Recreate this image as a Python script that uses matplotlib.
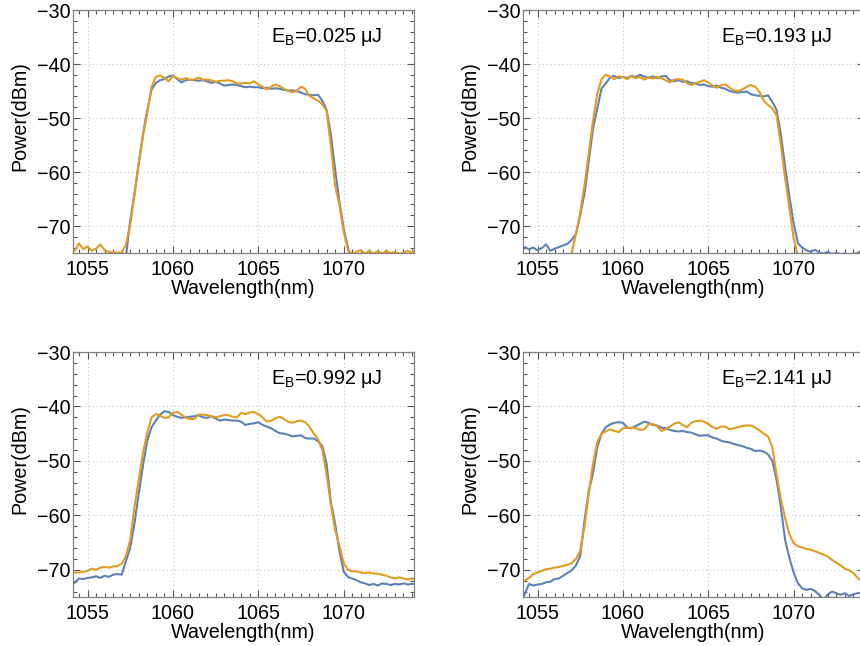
import numpy as np
import matplotlib
matplotlib.use("Agg")
import matplotlib.pyplot as plt
from matplotlib.ticker import MultipleLocator

plt.rcParams['font.family'] = ['Liberation Sans', 'DejaVu Sans']
plt.rcParams['mathtext.fontset'] = 'custom'
plt.rcParams['mathtext.rm'] = 'Liberation Sans'
plt.rcParams['mathtext.it'] = 'Liberation Sans'

# wavelength sampling grid (nm), 1054.0 ... 1074.25 in 0.25 nm steps
wavelength = np.arange(82) * 0.25 + 1054.0

energies = ["0.025", "0.193", "0.992", "2.141"]

blue_1 = [
    -78, -78, -78, -78,
    -78, -78, -78, -78,
    -78, -78, -78, -78,
    -78, -75.8, -69.0, -64.0,
    -58.5, -53.0, -48.5, -44.8,
    -43.5, -43.0, -42.8, -42.3,
    -42.1, -42.8, -43.4, -43.0,
    -42.9, -43.0, -43.1, -43.0,
    -43.2, -43.5, -43.3, -43.6,
    -44.0, -43.9, -43.8, -43.9,
    -44.1, -44.3, -44.2, -44.3,
    -44.3, -44.5, -44.4, -44.6,
    -44.5, -44.6, -44.8, -44.9,
    -44.9, -45.0, -45.3, -45.6,
    -45.7, -45.8, -45.7, -46.8,
    -48.5, -53.0, -59.5, -65.5,
    -70.4, -74.0, -77, -78,
    -78, -78, -78, -78,
    -78, -78, -78, -78,
    -78, -78, -78, -78,
    -78, -78,
]
orange_1 = [
    -74.8, -74.6, -73.2, -74.3,
    -73.8, -74.6, -74.2, -73.4,
    -74.5, -74.8, -74.9, -74.9,
    -74.9, -73.5, -69.8, -64.3,
    -58.2, -53.3, -49.0, -44.2,
    -42.4, -42.1, -42.6, -43.2,
    -42.2, -42.6, -42.9, -42.6,
    -42.9, -42.9, -42.5, -42.9,
    -42.9, -43.0, -43.3, -43.1,
    -43.1, -43.0, -43.2, -43.6,
    -43.6, -43.5, -43.6, -43.2,
    -43.8, -44.2, -44.7, -44.2,
    -43.8, -44.1, -44.6, -45.0,
    -45.2, -45.0, -44.2, -44.6,
    -45.9, -46.4, -46.8, -47.5,
    -48.7, -55.1, -62.5, -66.1,
    -71.0, -74.4, -75.2, -74.8,
    -74.5, -75.1, -74.6, -75.1,
    -74.7, -75.1, -74.6, -75.0,
    -74.8, -75.1, -75.0, -74.6,
    -74.9, -74.5,
]
blue_2 = [
    -73.9, -73.9, -74.3, -74.0,
    -74.5, -74.1, -73.4, -74.6,
    -74.2, -73.9, -73.6, -73.3,
    -72.6, -71.5, -68.0, -64.0,
    -58.0, -52.0, -48.3, -44.5,
    -43.6, -42.5, -42.2, -42.6,
    -42.4, -42.6, -42.2, -42.4,
    -42.0, -42.3, -42.6, -42.3,
    -42.6, -42.3, -42.2, -43.0,
    -43.2, -43.0, -43.3, -43.2,
    -43.5, -43.6, -43.9, -43.8,
    -44.1, -44.2, -44.0, -44.4,
    -44.6, -45.0, -45.2, -45.3,
    -45.2, -45.1, -45.6, -45.8,
    -45.9, -46.0, -45.8, -47.0,
    -48.5, -53.0, -59.0, -64.5,
    -69.5, -73.2, -74.0, -74.5,
    -74.8, -74.4, -74.9, -75.1,
    -74.8, -75.2, -75.0, -75.2,
    -75.1, -75.3, -75.2, -75.0,
    -74.5, -74.3,
]
orange_2 = [
    -78, -78, -78, -78,
    -78, -78, -78, -78,
    -78, -78, -78, -77,
    -75.0, -71.5, -67.5, -62.5,
    -56.5, -50.5, -45.5, -42.8,
    -42.0, -42.3, -42.8, -42.3,
    -42.4, -42.8, -42.3, -42.6,
    -42.4, -42.9, -42.5, -42.7,
    -42.4, -42.6, -43.0, -43.4,
    -42.9, -42.8, -42.9, -43.5,
    -43.9, -43.6, -43.3, -43.0,
    -43.4, -44.0, -44.4, -43.9,
    -43.8, -44.4, -44.9, -45.0,
    -44.7, -44.2, -43.9, -44.2,
    -45.2, -46.8, -47.6, -48.2,
    -49.5, -55.0, -61.2, -66.7,
    -72.3, -75.6, -78, -78,
    -78, -78, -78, -78,
    -78, -78, -78, -78,
    -78, -78, -78, -78,
    -78, -78,
]
blue_3 = [
    -72.6, -72.4, -71.6, -71.7,
    -71.5, -71.4, -71.2, -71.5,
    -71.1, -71.3, -70.9, -70.8,
    -70.9, -68.4, -66.0, -61.5,
    -56.0, -50.8, -46.3, -43.8,
    -42.6, -41.5, -40.9, -41.0,
    -41.6, -41.9, -42.1, -42.0,
    -41.9, -41.8, -41.6, -42.0,
    -42.1, -41.8, -42.2, -42.6,
    -42.4, -42.5, -42.6, -42.6,
    -42.8, -43.4, -43.2, -43.1,
    -42.9, -43.4, -43.7, -44.0,
    -44.5, -44.9, -45.0, -45.2,
    -45.5, -45.4, -45.3, -45.8,
    -45.9, -45.9, -46.4, -47.3,
    -50.5, -57.5, -61.5, -66.5,
    -70.3, -71.3, -71.6, -71.9,
    -72.3, -72.5, -72.8, -72.6,
    -72.9, -72.5, -72.6, -72.8,
    -72.6, -72.7, -72.5, -72.7,
    -72.6, -72.6,
]
orange_3 = [
    -70.5, -70.5, -70.5, -70.4,
    -70.2, -69.8, -70.0, -69.6,
    -69.5, -69.6, -69.4, -69.3,
    -68.9, -67.5, -64.5, -58.5,
    -53.5, -48.5, -44.8, -42.0,
    -41.4, -41.7, -42.1, -42.0,
    -41.2, -41.0, -41.5, -42.1,
    -42.3, -42.3, -41.5, -41.5,
    -41.6, -41.8, -42.0, -41.8,
    -41.6, -41.6, -41.9, -42.0,
    -41.2, -41.4, -41.1, -41.0,
    -41.4, -42.0, -42.8, -42.6,
    -42.2, -41.9, -42.3, -42.8,
    -43.0, -42.7, -42.6, -42.9,
    -43.7, -45.0, -46.0, -48.0,
    -52.5, -58.0, -62.7, -65.5,
    -68.8, -70.0, -70.3, -70.3,
    -70.5, -70.6, -70.5, -70.7,
    -70.7, -70.9, -71.1, -71.4,
    -71.6, -71.4, -71.6, -71.8,
    -71.6, -71.8,
]
blue_4 = [
    -76.0, -74.5, -72.6, -72.9,
    -72.7, -72.6, -72.3, -72.2,
    -71.7, -71.6, -71.1, -70.6,
    -70.1, -69.2, -67.5, -61.0,
    -55.5, -52.3, -47.5, -45.0,
    -43.8, -43.3, -43.0, -42.9,
    -43.0, -43.9, -44.0, -43.6,
    -43.2, -42.8, -43.0, -43.4,
    -43.5, -43.9, -44.0, -44.3,
    -44.5, -44.6, -44.5, -44.7,
    -44.8, -45.1, -45.4, -45.3,
    -45.3, -45.7, -45.9, -46.3,
    -46.5, -46.6, -46.9, -47.1,
    -47.3, -47.6, -47.8, -48.2,
    -48.1, -48.3, -48.8, -50.0,
    -53.5, -58.5, -64.5, -67.8,
    -70.5, -72.5, -73.4, -73.7,
    -73.5, -73.9, -74.6, -75.5,
    -74.5, -74.0, -74.3, -74.6,
    -74.3, -74.8, -74.5, -74.3,
    -74.2, -73.9,
]
orange_4 = [
    -72.3, -72.0, -71.5, -70.8,
    -70.5, -70.2, -69.9, -69.8,
    -69.6, -69.5, -69.3, -69.1,
    -68.8, -68.0, -66.5, -62.0,
    -56.0, -50.5, -46.5, -45.0,
    -44.6, -44.2, -44.5, -44.7,
    -44.0, -43.9, -43.9, -44.0,
    -44.3, -44.2, -43.3, -43.2,
    -43.6, -44.5, -44.2, -43.7,
    -43.2, -42.9, -43.4, -43.8,
    -43.0, -42.7, -42.6, -42.8,
    -43.2, -43.8, -44.1, -43.7,
    -43.7, -44.2, -44.0, -43.8,
    -43.6, -43.5, -43.5, -43.9,
    -44.4, -45.0, -45.5, -47.5,
    -52.5, -57.0, -60.5, -63.5,
    -65.1, -65.7, -65.9, -66.2,
    -66.3, -66.6, -66.9, -67.2,
    -67.6, -68.2, -68.7, -69.2,
    -69.8, -70.1, -70.6, -71.5,
    -72.2, -72.8,
]

blue_series = [blue_1, blue_2, blue_3, blue_4]
orange_series = [orange_1, orange_2, orange_3, orange_4]

BLUE = '#5E81B5'
ORANGE = '#E19C24'

W, H = 860, 646
fig = plt.figure(figsize=(W / 100, H / 100), dpi=100)

# panel boxes in pixels: left, top, right, bottom
boxes = [(73, 10, 414, 253), (523, 10, 864, 253),
         (73, 352, 414, 597), (523, 352, 864, 597)]

FS = 14.2
for k, (l, t, r, b) in enumerate(boxes):
    ax = fig.add_axes([l / W, 1 - b / H, (r - l) / W, (b - t) / H])
    ax.plot(wavelength, blue_series[k], color=BLUE, lw=1.5, solid_joinstyle='round')
    ax.plot(wavelength, orange_series[k], color=ORANGE, lw=1.5, solid_joinstyle='round')
    ax.set_xlim(1054.15, 1074.12)
    ax.set_ylim(-75, -30)
    ax.set_xticks([1055, 1060, 1065, 1070])
    ax.set_yticks([-30, -40, -50, -60, -70])
    ax.xaxis.set_minor_locator(MultipleLocator(0.5))
    ax.yaxis.set_minor_locator(MultipleLocator(2))
    ax.tick_params(which='both', direction='in', top=True, right=True,
                   color='#555555', width=0.8, labelsize=FS)
    ax.tick_params(which='major', length=5)
    ax.tick_params(which='minor', length=2.8)
    ax.tick_params(axis='x', pad=5.0)
    ax.tick_params(axis='y', pad=2.0)
    for s in ax.spines.values():
        s.set_color('#808080')
        s.set_linewidth(0.9)
    ax.grid(True, which='major', color='#c8c8c8', linestyle=(0, (1, 2.5)), linewidth=0.8)
    ax.set_axisbelow(True)
    ax.set_xlabel('Wavelength(nm)', fontsize=FS, va='center')
    ax.xaxis.set_label_coords(0.5, -0.146)
    ax.set_ylabel('Power(dBm)', fontsize=FS, va='center')
    ax.yaxis.set_label_coords(-0.157, 0.563)
    ax.text(0.906, 0.868, r'$\mathregular{E_B}$=' + energies[k] + ' μJ',
            transform=ax.transAxes, ha='right', va='baseline', fontsize=FS)

fig.savefig('out.png', dpi=100)
